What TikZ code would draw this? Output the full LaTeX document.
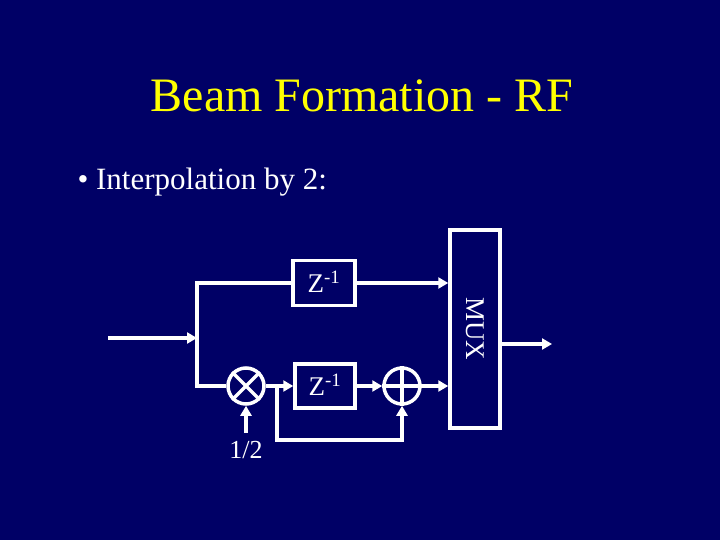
\documentclass[tikz,border=0pt]{standalone}
\usepackage{fontspec}
\setmainfont{Liberation Serif}
\usetikzlibrary{arrows.meta}
\definecolor{bg}{HTML}{000066}
\definecolor{ttl}{HTML}{FFFF00}
\begin{document}
\begin{tikzpicture}[x=1pt,y=-1pt,
  wire/.style={draw=white,line width=3.5pt,line join=miter},
  arr/.style={wire,-{Triangle[length=10pt,width=11pt]}},
  blk/.style={draw=white,line width=3.5pt,inner sep=0pt},
  txt/.style={text=white,font=\fontsize{27}{30}\selectfont}]
\fill[bg] (0,0) rectangle (720,540);
\node[text=ttl,font=\fontsize{48}{54}\selectfont] (title) at (362,96) {Beam Formation - RF};
\node[text=white,font=\fontsize{31}{34}\selectfont,anchor=west] (bul) at (74,182) {\textbullet\ Interpolation by 2:};
\node[blk,minimum width=62pt,minimum height=45pt] (z1) at (324,283) {};
\node[txt] (z1t) at (324,282) {Z\textsuperscript{-1}};
\node[blk,minimum width=60pt,minimum height=44pt] (z2) at (325,386) {};
\node[txt] (z2t) at (325,385) {Z\textsuperscript{-1}};
\node[blk,minimum width=50pt,minimum height=198pt] (mux) at (475,329) {};
\node[txt,rotate=-90] (muxt) at (475,329) {MUX};
\node[draw=white,line width=3.5pt,circle,minimum size=36pt,inner sep=0pt] (mul) at (246,386) {};
\draw[wire] (mul.north east)--(mul.south west) (mul.north west)--(mul.south east);
\node[draw=white,line width=3.5pt,circle,minimum size=36pt,inner sep=0pt] (add) at (402,386) {};
\draw[wire] (add.north)--(add.south) (add.west)--(add.east);
\node[text=white,font=\fontsize{26}{28}\selectfont] (half) at (246,450) {1/2};
\coordinate (in) at (108,338);
\coordinate (j) at (197,338);
\coordinate (fb) at (277,386);
\coordinate (out) at (552,344);
\draw[arr] (in)--(j);
\draw[wire] (z1.west)--(197,283)--(197,386)--(mul.west);
\draw[arr] (z1.east)--(mux.west |- z1.east);
\draw[arr] (mul.east)--(z2.west);
\draw[arr] (z2.east)--(add.west);
\draw[arr] (add.east)--(mux.west |- add.east);
\draw[arr] (mux.east |- out)--(out);
\draw[arr] (246,433)--(mul.south);
\draw[arr] (fb)--(277,440)--(402,440)--(add.south);
\end{tikzpicture}
\end{document}
